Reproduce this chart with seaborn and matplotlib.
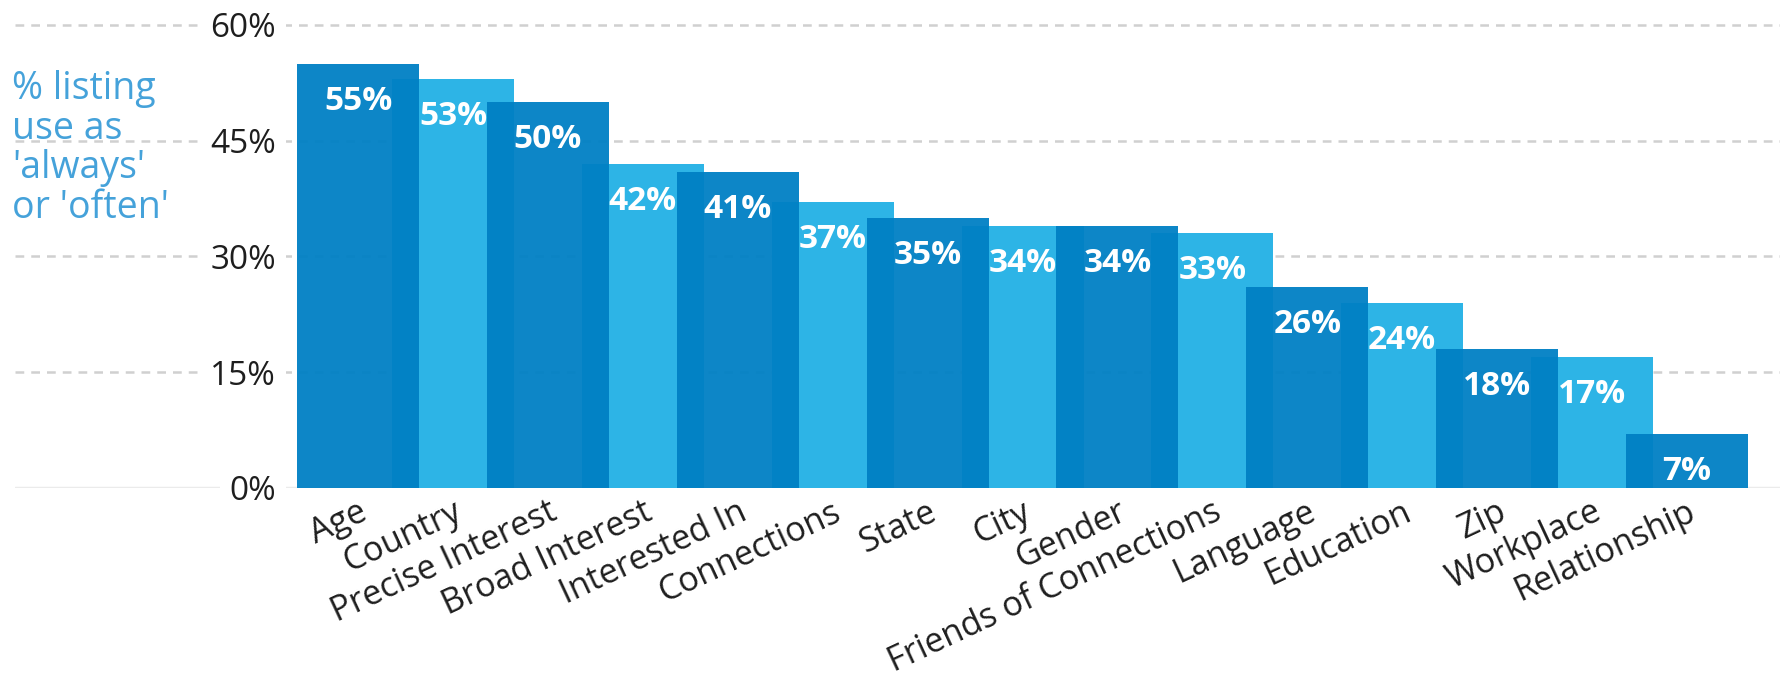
import matplotlib
matplotlib.use("Agg")
import matplotlib.pyplot as plt
import seaborn as sns
import pandas as pd

categories = ["Age", "Country", "Precise Interest", "Broad Interest", "Interested In",
              "Connections", "State", "City", "Gender", "Friends of Connections",
              "Language", "Education", "Zip", "Workplace", "Relationship"]
values = [55, 53, 50, 42, 41, 37, 35, 34, 34, 33, 26, 24, 18, 17, 7]
tones = ["dark", "light"] * 7 + ["dark"]
y_ticks = [0, 15, 30, 45, 60]
y_tick_labels = ["0%", "15%", "30%", "45%", "60%"]
y_title = "% listing\nuse as\n'always'\nor 'often'"

DARK = "#0080c4"
LIGHT = "#2db4e6"
TITLE_BLUE = "#45a2da"
TEXT = "#1e1e1e"

sns.set_theme(style="white")
plt.rcParams["font.family"] = ["Open Sans", "DejaVu Sans"]

df = pd.DataFrame({"category": categories, "value": values, "tone": tones})

fig = plt.figure(figsize=(17.81, 6.92), dpi=100)
ax = fig.add_axes([15 / 1781, 204 / 692, 1 - 15 / 1781, 482.3 / 692])

sns.barplot(data=df[df.tone == "light"], x="category", y="value", order=categories,
            color=LIGHT, saturation=1, width=1.285, ax=ax, errorbar=None,
            linewidth=0, edgecolor="none", zorder=2)
sns.barplot(data=df[df.tone == "dark"], x="category", y="value", order=categories,
            color=DARK, saturation=1, width=1.285, ax=ax, errorbar=None, alpha=0.95,
            linewidth=0, edgecolor="none", zorder=3)

for i, v in enumerate(values):
    ax.annotate(f"{v}%", xy=(i, v), xytext=(0, -27), textcoords="offset points",
                ha="center", va="center", color="white", fontsize=24,
                fontweight="bold", zorder=5)

ax.set_xlim(-3.614, 14.99)
ax.set_ylim(0, 62.5)
ax.set_xlabel("")
ax.set_ylabel("")
for s in ax.spines.values():
    s.set_visible(False)

ax.set_yticks(y_ticks)
ax.set_yticklabels(y_tick_labels, fontsize=24, color=TEXT)
ax.tick_params(axis="y", length=0, pad=-188)
for lbl in ax.get_yticklabels():
    lbl.set_bbox(dict(facecolor="white", edgecolor="none", pad=7))

ax.yaxis.grid(True, color="#d0d0d0", linewidth=1.8, linestyle=(0, (3.5, 2.8)))
ax.xaxis.grid(False)
gl = ax.get_ygridlines()
gl[0].set_linestyle("-")
gl[0].set_color("#ebebeb")
gl[0].set_linewidth(2.5)
ax.set_axisbelow(True)

ax.set_xticks(range(len(categories)))
ax.set_xticklabels(categories, rotation=25, ha="right", rotation_mode="anchor",
                   fontsize=24.5, color=TEXT)
ax.tick_params(axis="x", length=0, pad=5)

fig.text(12 / 1781, 1 - 70 / 692, y_title, ha="left", va="top", fontsize=27,
         color=TITLE_BLUE, linespacing=1.06)

fig.savefig("out.png", dpi=100, facecolor="white")
